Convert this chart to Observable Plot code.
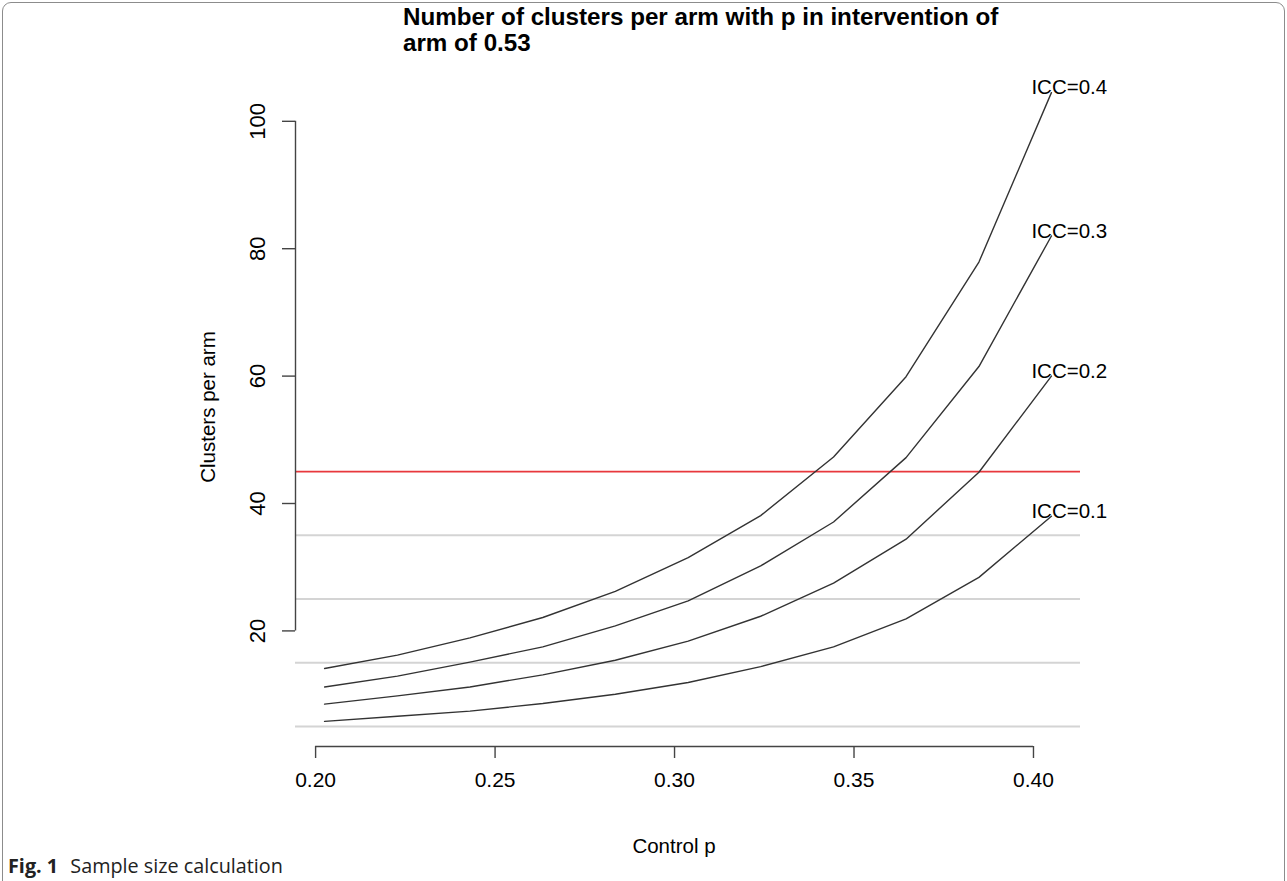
<!DOCTYPE html>
<html>
<head>
<meta charset="utf-8">
<script src="https://cdn.jsdelivr.net/npm/d3@7"></script>
<script src="https://cdn.jsdelivr.net/npm/@observablehq/plot@0.6"></script>
<style>
  html, body { margin: 0; padding: 0; background: #fff; }
  body { width: 1287px; height: 881px; overflow: hidden; position: relative; font-family: "Liberation Sans", Arial, sans-serif; }
  #frame { position: absolute; left: 2px; top: 2px; width: 1283px; height: 920px; border: 1.5px solid #8c8c8c; border-radius: 9px; box-sizing: border-box; }
  #chart { position: absolute; left: 0; top: 0; }
  #title { position: absolute; left: 403px; top: 4px; font-weight: bold; font-size: 24.2px; line-height: 26px; color: #000; white-space: nowrap; }
  #caption { position: absolute; left: 8px; top: 852px; font-family: "Open Sans", "Noto Sans", sans-serif; font-size: 19.8px; color: #222; }
  #caption b { font-weight: 700; margin-right: 7px; }
</style>
</head>
<body>
<div id="frame"></div>
<div id="chart"></div>
<div id="title">Number of clusters per arm with p in intervention of<br>arm of 0.53</div>
<div id="caption"><b>Fig. 1</b> Sample size calculation</div>
<script>
// Control p values (x)
const controlP = [0.2025, 0.2228, 0.2430, 0.2633, 0.2835, 0.3038, 0.3240, 0.3443, 0.3645, 0.3848, 0.4050];
// Clusters per arm for each ICC
const icc01 = [5.8, 6.6, 7.4, 8.6, 10.05, 11.9, 14.4, 17.5, 21.9, 28.4, 38.0];
const icc02 = [8.5, 9.8, 11.2, 13.1, 15.4, 18.4, 22.3, 27.5, 34.4, 44.9, 60.0];
const icc03 = [11.2, 12.9, 15.1, 17.5, 20.8, 24.7, 30.2, 37.1, 47.2, 61.5, 82.0];
const icc04 = [14.1, 16.2, 18.9, 22.1, 26.2, 31.5, 38.1, 47.3, 59.9, 77.9, 104.5];
const seriesNames = ["ICC=0.1", "ICC=0.2", "ICC=0.3", "ICC=0.4"];
const seriesValues = [icc01, icc02, icc03, icc04];
// reference lines
const greyLines = [5, 15, 25, 35];
const redLine = [45];
// ticks
const xTicks = [0.20, 0.25, 0.30, 0.35, 0.40];
const yTicks = [20, 40, 60, 80, 100];

const rows = [];
seriesNames.forEach((name, s) => controlP.forEach((p, i) => rows.push({icc: name, p, n: seriesValues[s][i]})));
const ends = seriesNames.map((name, s) => ({icc: name, p: controlP[controlP.length - 1], n: seriesValues[s][controlP.length - 1]}));

// R-style 4% extended ranges
const ext = ([a, b]) => { const d = (b - a) * 0.04; return [a - d, b + d]; };
const xDomain = ext(d3.extent(controlP));
const yDomain = ext(d3.extent(rows, d => d.n));

const font = "'Liberation Sans', Arial, sans-serif";

const chart = Plot.plot({
  width: 1287,
  height: 881,
  marginLeft: 295,
  marginRight: 207,
  marginTop: 67,
  marginBottom: 135,
  x: {domain: xDomain, axis: null},
  y: {domain: yDomain, axis: null},
  style: {fontFamily: font, background: "transparent", color: "#000"},
  marks: [
    Plot.ruleY(greyLines, {stroke: "#d4d4d4", strokeWidth: 2}),
    Plot.ruleY(redLine, {stroke: "#e8383d", strokeWidth: 1.8}),
    Plot.line(rows, {x: "p", y: "n", z: "icc", stroke: "#333", strokeWidth: 1.4}),
    Plot.text(ends, {x: "p", y: "n", text: "icc", textAnchor: "start", dx: -20, dy: -5, fontSize: 20.5, fill: "#000"}),
    // y axis
    Plot.ruleX([xDomain[0]], {y1: d3.min(yTicks), y2: d3.max(yTicks), stroke: "#444", strokeWidth: 1.4}),
    Plot.axisY({ticks: yTicks, tickSize: 13, tickFormat: () => "", label: null, stroke: "#444", strokeWidth: 1.4}),
    Plot.text(yTicks, {y: d => d, text: d => String(d), frameAnchor: "left", textAnchor: "middle", rotate: -90, dx: -38, fontSize: 22, fill: "#000"}),
    Plot.text(["Clusters per arm"], {frameAnchor: "left", textAnchor: "middle", rotate: -90, dx: -87, fontSize: 20.5, fill: "#000"}),
    // x axis
    Plot.ruleY([yDomain[0]], {x1: d3.min(xTicks), x2: d3.max(xTicks), stroke: "#444", strokeWidth: 1.4}),
    Plot.axisX({ticks: xTicks, tickSize: 12, tickPadding: 14, tickFormat: d3.format(".2f"), fontSize: 21, label: null, stroke: "#444", strokeWidth: 1.4, color: "#000"}),
    Plot.text(["Control p"], {frameAnchor: "bottom", dx: -14, dy: 106, fontSize: 20.5, fill: "#000"})
  ]
});
document.getElementById("chart").appendChild(chart);
</script>
</body>
</html>
